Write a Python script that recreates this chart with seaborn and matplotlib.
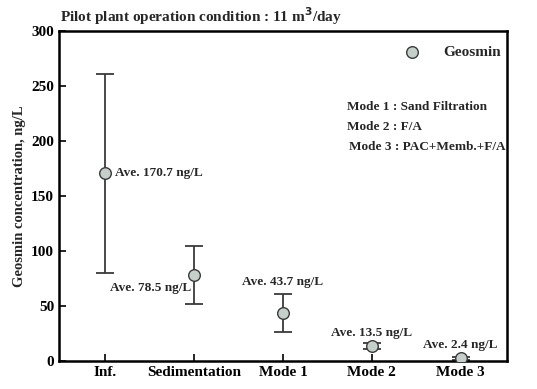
import matplotlib
matplotlib.use("Agg")
import matplotlib.pyplot as plt
import seaborn as sns
import pandas as pd
import numpy as np

categories = ["Inf.", "Sedimentation", "Mode 1", "Mode 2", "Mode 3"]
means = [170.7, 78.5, 43.7, 13.5, 2.4]
upper = [261, 105, 61, 16.5, 4.0]
lower = [80, 52, 26, 10.5, 0.8]
labels = ["Ave. 170.7 ng/L", "Ave. 78.5 ng/L", "Ave. 43.7 ng/L", "Ave. 13.5 ng/L", "Ave. 2.4 ng/L"]

sns.set_theme(style="ticks")
plt.rcParams['font.family'] = ['Liberation Serif', 'DejaVu Serif']
plt.rcParams['font.weight'] = 'bold'

fig = plt.figure(figsize=(5.37, 3.89), dpi=100)
ax = fig.add_axes([0.1099, 0.072, 0.834, 0.848])

df = pd.DataFrame({"cat": categories, "mean": means, "up": upper, "lo": lower})
x = np.arange(len(categories))
yerr = np.vstack([df["mean"] - df["lo"], df["up"] - df["mean"]])
ax.errorbar(x, df["mean"], yerr=yerr, fmt="none", ecolor="#3a3a3a", elinewidth=1.3,
            capsize=6.5, capthick=1.3, zorder=2)
sns.scatterplot(x=x, y=df["mean"], ax=ax, s=70, color="#c6d0cb", edgecolor="#3a3a3a",
                linewidth=1.0, zorder=3, legend=False)

ax.set_xlim(-0.52, 4.52)
ax.set_ylim(0, 300)
ax.set_yticks(range(0, 301, 50))
ax.set_xticks(x)
ax.set_xticklabels(categories)
ax.tick_params(direction="in", length=5, width=1.2, labelsize=11, colors="black")
for t in ax.get_xticklabels() + ax.get_yticklabels():
    t.set_fontweight("bold")
for s in ax.spines.values():
    s.set_linewidth(1.8)
    s.set_color("black")
    s.set_visible(True)

ax.set_ylabel("Geosmin concentration, ng/L", fontsize=10.5, fontweight="bold")

fs = 9.5
ax.annotate(labels[0], (x[0], means[0]), xytext=(7, 0), textcoords="offset points",
            ha="left", va="center", fontsize=fs, fontweight="bold")
ax.annotate(labels[1], (x[1], means[1]), xytext=(-2, -5), textcoords="offset points",
            ha="right", va="top", fontsize=fs, fontweight="bold")
ax.annotate(labels[2], (x[2], upper[2]), xytext=(0, 4), textcoords="offset points",
            ha="center", va="bottom", fontsize=fs, fontweight="bold")
ax.annotate(labels[3], (x[3], upper[3]), xytext=(0, 3), textcoords="offset points",
            ha="center", va="bottom", fontsize=fs, fontweight="bold")
ax.annotate(labels[4], (x[4], upper[4]), xytext=(0, 4), textcoords="offset points",
            ha="center", va="bottom", fontsize=fs, fontweight="bold")

# legend
ax.scatter([0.788], [0.936], transform=ax.transAxes, s=70, color="#c6d0cb",
           edgecolor="#3a3a3a", linewidth=1.0, clip_on=False)
ax.text(0.857, 0.936, "Geosmin", transform=ax.transAxes, ha="left", va="center",
        fontsize=11, fontweight="bold")
ax.text(0.643, 0.770, "Mode 1 : Sand Filtration", transform=ax.transAxes, ha="left",
        va="center", fontsize=9.5, fontweight="bold")
ax.text(0.643, 0.709, "Mode 2 : F/A", transform=ax.transAxes, ha="left",
        va="center", fontsize=9.5, fontweight="bold")
ax.text(0.647, 0.648, "Mode 3 : PAC+Memb.+F/A", transform=ax.transAxes, ha="left",
        va="center", fontsize=9.5, fontweight="bold")

fig.text(0.112, 0.958, "Pilot plant operation condition : 11 m$^{\\mathbf{3}}$/day", ha="left",
         va="center", fontsize=11, fontweight="bold")

fig.savefig("out.png", dpi=100)
